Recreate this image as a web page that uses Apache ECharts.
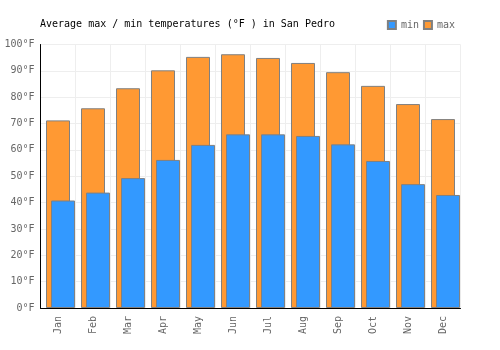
<!DOCTYPE html>
<html><head><meta charset="utf-8">
<script src="https://cdn.jsdelivr.net/npm/echarts@6/dist/echarts.min.js"></script>
<style>html,body{margin:0;padding:0;background:#fff}#c{width:500px;height:350px}</style>
</head><body><div id="c"></div>
<script>
var months = ['Jan','Feb','Mar','Apr','May','Jun','Jul','Aug','Sep','Oct','Nov','Dec'];
var maxTemps = [71.2, 75.8, 83.4, 90.2, 95.3, 96.3, 94.9, 93.0, 89.5, 84.3, 77.4, 71.7];
var minTemps = [40.8, 43.8, 49.3, 56.2, 61.9, 65.9, 65.9, 65.3, 62.1, 55.8, 47.0, 42.9];
var spacer = months.map(function(){ return null; });
var font = 'DejaVu Sans Mono';
var chart = echarts.init(document.getElementById('c'), null, {renderer:'canvas'});
chart.setOption({
  animation:false,
  title:{text:'Average max / min temperatures (°F ) in San Pedro', left:35, top:14,
    textStyle:{fontFamily:font, fontSize:10, fontWeight:'normal', color:'#000'}},
  legend:{data:['min','max'], right:40, top:15, itemWidth:8, itemHeight:8, itemGap:4,
    icon:'rect', textStyle:{fontFamily:font, fontSize:10, color:'#666'}},
  grid:{left:40.5, right:39.5, top:44.5, bottom:42, containLabel:false},
  xAxis:{type:'category', data:months, boundaryGap:true,
    axisLine:{lineStyle:{color:'#000', width:1}},
    axisTick:{show:false},
    splitLine:{show:true, interval:0, lineStyle:{color:'#eee', width:1}},
    axisLabel:{rotate:90, interval:0, fontFamily:font, fontSize:10, color:'#666', margin:8}},
  yAxis:{type:'value', min:0, max:100, interval:10,
    axisLine:{show:true, lineStyle:{color:'#000', width:1}},
    axisTick:{show:false},
    splitLine:{lineStyle:{color:'#eee', width:1}},
    axisLabel:{formatter:'{value}°F', fontFamily:font, fontSize:10, color:'#666', margin:6}},
  series:[
    {name:'spacer', type:'bar', data:spacer, barWidth:24, barGap:'-79%', silent:true,
      itemStyle:{color:'transparent'}},
    {name:'max', type:'bar', data:maxTemps, barWidth:24, barGap:'-79%',
      itemStyle:{color:'#ff9933', borderColor:'#808080', borderWidth:1}},
    {name:'min', type:'bar', data:minTemps, barWidth:24, barGap:'-79%',
      itemStyle:{color:'#3399ff', borderColor:'#808080', borderWidth:1}}
  ]
});
</script></body></html>
